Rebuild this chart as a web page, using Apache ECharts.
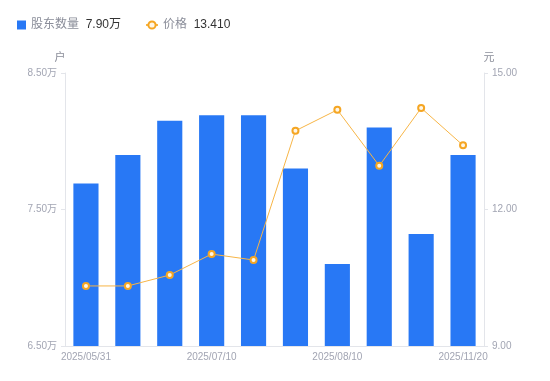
<!DOCTYPE html>
<html><head><meta charset="utf-8">
<script src="https://cdn.jsdelivr.net/npm/echarts@6/dist/echarts.min.js"></script>
<style>html,body{margin:0;padding:0;background:#fff}#c{width:550px;height:381px}</style>
</head><body><div id="c"></div>
<script>
const categories = ['2025/05/31','2025/06/10','2025/06/20','2025/07/10','2025/07/20','2025/07/31','2025/08/10','2025/09/30','2025/10/31','2025/11/20'];
const holders = [7.69, 7.90, 8.15, 8.19, 8.19, 7.80, 7.10, 8.10, 7.32, 7.90];
const prices = [10.32, 10.32, 10.56, 11.02, 10.89, 13.73, 14.19, 12.96, 14.23, 13.41];
const leftTicks = { min: 6.5, max: 8.5, interval: 1 };
const rightTicks = { min: 9, max: 15, interval: 3 };

const chart = echarts.init(document.getElementById('c'));
const labelColor = '#a2a5b3';
const lineColor = '#e3e5ea';
const font = 'Liberation Sans, Noto Sans CJK SC, sans-serif';
const legendText = {
  fontFamily: font,
  rich: {
    n: { color: '#8a8d99', fontSize: 12, fontFamily: font },
    v: { color: '#333', fontSize: 12, fontFamily: font }
  }
};
chart.setOption({
  animation: false,
  textStyle: { fontFamily: font },
  legend: [
    {
      left: 12, top: 14, itemWidth: 9, itemHeight: 9,
      data: [{ name: '股东数量', icon: 'rect' }],
      formatter: name => '{n|' + name + '}  {v|' + holders[holders.length - 1].toFixed(2) + '万}',
      textStyle: legendText
    },
    {
      left: 140, top: 14, itemWidth: 12, itemHeight: 9,
      data: ['价格'],
      formatter: name => '{n|' + name + '}  {v|' + prices[prices.length - 1].toFixed(3) + '}',
      textStyle: legendText
    }
  ],
  grid: { left: 65, right: 66, top: 73, bottom: 35 },
  xAxis: {
    type: 'category', data: categories,
    axisLine: { lineStyle: { color: lineColor } },
    axisTick: { show: false },
    axisLabel: { color: labelColor, fontSize: 10, interval: 2, margin: 6 }
  },
  yAxis: [
    {
      type: 'value', name: '户', min: leftTicks.min, max: leftTicks.max, interval: leftTicks.interval,
      nameTextStyle: { color: '#8a8d99', fontSize: 11, padding: [0, 10, 0, 0] },
      nameGap: 10,
      axisLine: { show: true, lineStyle: { color: lineColor } },
      axisTick: { show: true, length: 4, lineStyle: { color: lineColor } },
      splitLine: { show: false },
      axisLabel: { color: labelColor, fontSize: 10, margin: 8, formatter: v => v.toFixed(2) + '万' }
    },
    {
      type: 'value', name: '元', min: rightTicks.min, max: rightTicks.max, interval: rightTicks.interval,
      nameTextStyle: { color: '#8a8d99', fontSize: 11, padding: [0, 0, 0, 10] },
      nameGap: 10,
      axisLine: { show: true, lineStyle: { color: lineColor } },
      axisTick: { show: true, length: 4, lineStyle: { color: lineColor } },
      splitLine: { show: false },
      axisLabel: { color: labelColor, fontSize: 10, margin: 8, formatter: v => v.toFixed(2) }
    }
  ],
  series: [
    {
      name: '股东数量', type: 'bar', data: holders, barWidth: '60%',
      itemStyle: { color: '#2878f5' }
    },
    {
      name: '价格', type: 'line', yAxisIndex: 1, data: prices,
      symbol: 'circle', symbolSize: 6, showAllSymbol: true,
      lineStyle: { color: '#f7b546', width: 1 },
      itemStyle: { color: '#fff6e6', borderColor: '#f5a623', borderWidth: 2 }
    }
  ]
});
</script></body></html>
